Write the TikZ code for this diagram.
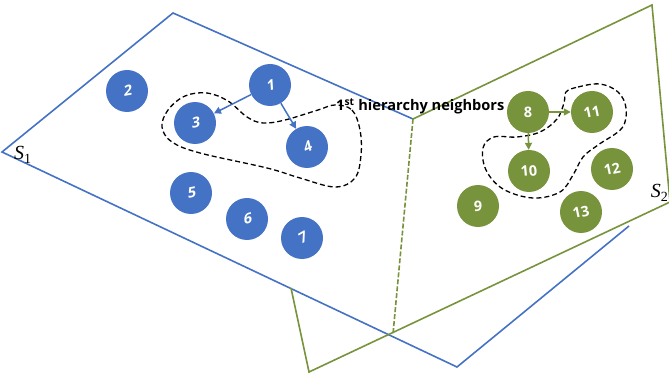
\documentclass[tikz,border=0pt]{standalone}
\usepackage{fontspec}
\usepackage{graphicx}
\usetikzlibrary{arrows.meta}
\newfontfamily\osans{Open Sans}
\newfontfamily\oslant{Open Sans}[FakeSlant=0.2]
\newfontfamily\sserif{Liberation Serif}
\definecolor{pblue}{HTML}{4472C4}
\definecolor{pgreen}{HTML}{77933C}
\tikzset{
  plane/.style={line width=1.6pt},
  bnode/.style={circle,fill=pblue,minimum size=42pt,inner sep=0pt,text=white,font=\oslant\bfseries\fontsize{14.5}{14.5}\selectfont},
  gnode/.style={circle,fill=pgreen,minimum size=42pt,inner sep=0pt,text=white,font=\osans\bfseries\fontsize{14.5}{14.5}\selectfont},
  barrow/.style={draw=pblue,line width=1.5pt,-{Triangle[length=7pt,width=7pt]}},
  garrow/.style={draw=pgreen,line width=1.5pt,-{Triangle[length=7pt,width=7pt]}},
  hood/.style={draw=black,line width=1.3pt,dash pattern=on 5pt off 3pt},
  slabel/.style={inner sep=0pt,font=\sserif\itshape\fontsize{20}{20}\selectfont}
}
\begin{document}
\begin{tikzpicture}[x=1pt,y=-1pt]
\useasboundingbox (0,0) rectangle (669,374);
% plane corners
\coordinate (b1) at (173,13);
\coordinate (b2) at (413,119);
\coordinate (b3) at (2,152);
\coordinate (b4) at (457,367);
\coordinate (b5) at (629,226);
\coordinate (g1) at (652,5);
\coordinate (g2) at (670,202);
\coordinate (g3) at (309,372);
\coordinate (g4) at (291,288);
\coordinate (gd) at (393,334);
% planes
\draw[plane,pblue] (b2) -- (b1) -- (b3) -- (b4) -- (b5);
\draw[plane,pgreen] (b2) -- (g1) -- (g2) -- (g3) -- (g4);
\draw[plane,pgreen,dash pattern=on 5pt off 2pt] (b2) -- (gd);
% labels
\node[slabel,anchor=west] (s1) at (14,155) {S{\upshape\fontsize{14}{14}\selectfont\raisebox{-4pt}{1}}};
\node[slabel,anchor=east] (s2) at (668,193) {S{\upshape\fontsize{14}{14}\selectfont\raisebox{-4pt}{2}}};
% neighborhoods
\draw[hood] plot[smooth cycle,tension=0.6] coordinates {(335,105) (352,110) (360,130) (361,155) (355,178) (335,187) (300,178) (267,168) (200,153) (172,142) (162,127) (168,110) (185,96) (207,93) (228,101) (247,117) (263,123) (285,120) (318,110)};
\draw[hood] plot[smooth cycle,tension=0.6] coordinates {(566,92) (578,87) (600,84) (618,92) (626,108) (622,128) (598,145) (583,157) (573,175) (560,192) (533,198) (503,189) (486,170) (483,148) (494,137) (517,137) (540,132) (557,119) (564,103)};
% blue nodes
\node[bnode] (n1) at (270,85) {\rotatebox{15}{1}};
\node[bnode] (n2) at (127,91) {\rotatebox{10}{2}};
\node[bnode] (n3) at (195,123) {\rotatebox{10}{3}};
\node[bnode] (n4) at (307,147) {\rotatebox{25}{4}};
\node[bnode] (n5) at (191,193) {\rotatebox{10}{5}};
\node[bnode] (n6) at (247,219) {\rotatebox{10}{6}};
\node[bnode] (n7) at (302,238) {\rotatebox{30}{7}};
% green nodes
\node[gnode] (n8) at (528,112) {8};
\node[gnode] (n9) at (478,206) {9};
\node[gnode] (n10) at (529,171) {\rotatebox{5}{10}};
\node[gnode] (n11) at (592,112) {\rotatebox{12}{11}};
\node[gnode] (n12) at (612,169) {\rotatebox{12}{12}};
\node[gnode] (n13) at (581,212) {\rotatebox{12}{13}};
% arrows
\draw[barrow] (n1) -- (n3);
\draw[barrow] (n1) -- (n4);
\draw[garrow] (n8) -- (n11);
\draw[garrow] (n8) -- (n10);
% text
\node[anchor=base west,inner sep=0pt,font=\osans\bfseries\fontsize{14.6}{14.6}\selectfont] (lab) at (336,111) {1\textsuperscript{st} hierarchy neighbors};
\end{tikzpicture}
\end{document}
